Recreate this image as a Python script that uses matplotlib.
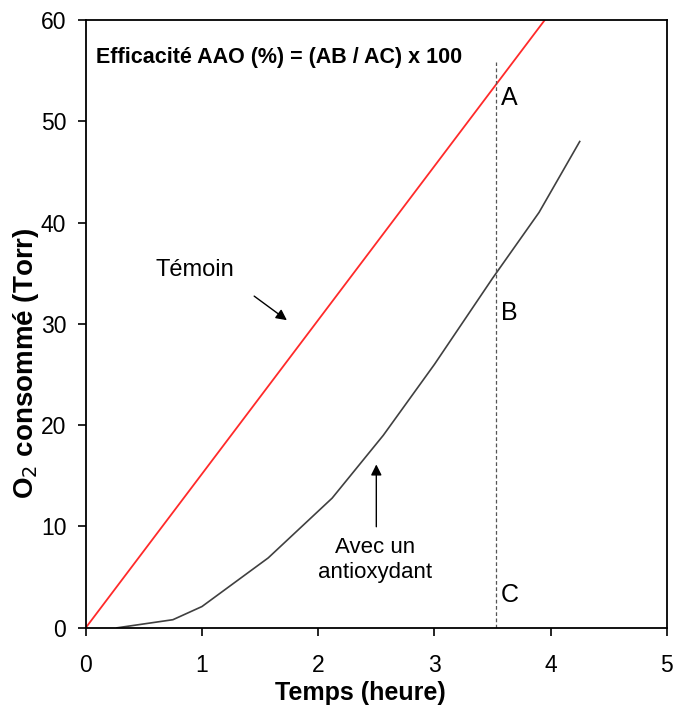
import matplotlib.pyplot as plt

plt.rcParams['font.family'] = ['Liberation Sans', 'DejaVu Sans']

# Témoin (sans antioxydant)
temoin_t = [0.0, 3.95]
temoin_o2 = [0.0, 60.0]

# Avec un antioxydant
aao_t = [0.27, 0.75, 1.0, 1.57, 2.12, 2.56, 3.0, 3.5, 3.9, 4.25]
aao_o2 = [0.0, 0.8, 2.1, 6.9, 12.8, 19.0, 26.0, 34.5, 41.0, 48.0]

t_mesure = 3.53
xticks = [0, 1, 2, 3, 4, 5]
yticks = [0, 10, 20, 30, 40, 50, 60]

fig = plt.figure(figsize=(6.75, 7.11), dpi=100)
ax = fig.add_axes([0.127, 0.117, 0.861, 0.855])

ax.plot(temoin_t, temoin_o2, color='#ff2a2a', lw=1.3)
ax.plot(aao_t, aao_o2, color='#404040', lw=1.2)
ax.plot([t_mesure, t_mesure], [0, 55.8], color='#555555', lw=0.9, ls=(0, (3, 2)))

ax.set_xlim(0, 5)
ax.set_ylim(0, 60)
ax.set_xticks(xticks)
ax.set_yticks(yticks)
ax.tick_params(direction='out', length=6, width=1.2, labelsize=16.5, top=False, right=False)
ax.tick_params(axis='x', pad=13)
ax.tick_params(axis='y', pad=8)
for s in ax.spines.values():
    s.set_linewidth(1.3)

ax.set_xlabel('Temps (heure)', fontsize=18, fontweight='bold')
ax.set_ylabel('O$_2$ consommé (Torr)', fontsize=20, fontweight='bold')
ax.xaxis.set_label_coords(0.473, -0.087)
ax.yaxis.set_label_coords(-0.077, 0.436)

ax.text(0.086, 56.3, 'Efficacité AAO (%) = (AB / AC) x 100', fontsize=15.5,
        fontweight='bold', va='center', ha='left')

ax.text(3.57, 52.3, 'A', fontsize=18, va='center')
ax.text(3.57, 31.1, 'B', fontsize=18, va='center')
ax.text(3.57, 3.2, 'C', fontsize=18, va='center')

ax.annotate('', xy=(1.75, 30.2), xytext=(1.43, 32.9),
            arrowprops=dict(arrowstyle='-|>', color='black', lw=1.0, mutation_scale=16))
ax.text(0.94, 35.3, 'Témoin', fontsize=17, ha='center', va='center')

ax.annotate('', xy=(2.50, 16.4), xytext=(2.50, 9.7),
            arrowprops=dict(arrowstyle='-|>', color='black', lw=1.0, mutation_scale=16))
ax.text(2.49, 6.7, 'Avec un\nantioxydant', fontsize=16, ha='center', va='center',
        linespacing=1.3)

plt.savefig('out.png')
